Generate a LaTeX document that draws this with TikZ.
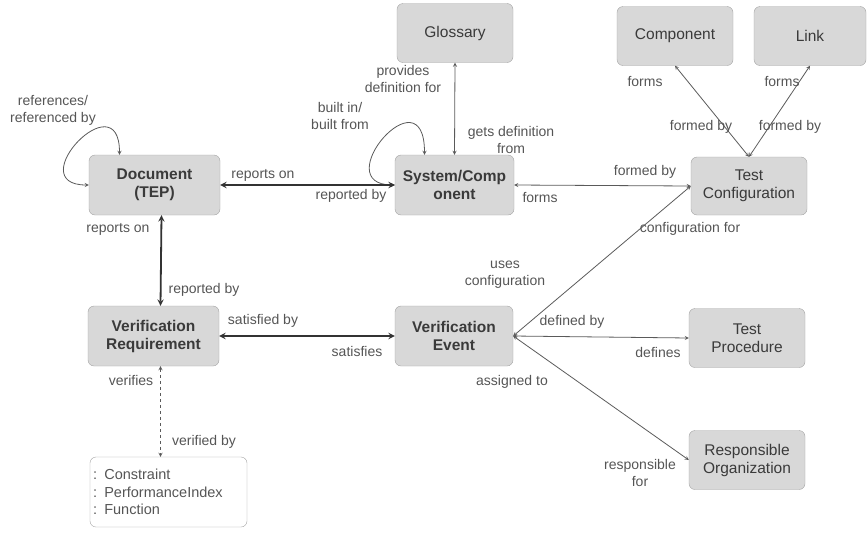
\documentclass[tikz,border=0pt]{standalone}
\usepackage{fontspec}
\setmainfont{Liberation Sans}
\definecolor{boxfill}{HTML}{D8D8D8}
\definecolor{boxline}{HTML}{A3A3A3}
\definecolor{inktext}{HTML}{3A3A3A}
\definecolor{lbltext}{HTML}{555555}
\definecolor{thickline}{HTML}{333333}
\definecolor{thinline}{HTML}{5A5A5A}
\begin{document}
\begin{tikzpicture}[x=1pt,y=1pt]
\tikzstyle{every node}+=[inner sep=0pt]
\tikzstyle{entity}=[draw=boxline,fill=boxfill,rounded corners=6pt,minimum width=116pt,minimum height=59pt,align=center,text=inktext,font=\fontsize{15.5}{18}\selectfont]
\tikzstyle{core}=[entity,minimum height=60pt,font=\fontsize{15.5}{18}\selectfont\bfseries]
\tikzstyle{lbl}=[text=lbltext,align=center,font=\fontsize{14}{17}\selectfont]
\tikzstyle{strong}=[<->,>=stealth,line width=1.8pt,draw=thickline]
\tikzstyle{weak}=[<->,>=stealth,line width=0.8pt,draw=thinline]
\useasboundingbox (0,0) rectangle (867,-536);
\node [core,minimum width=131pt] (doc) at (154.5,-185) {Document\\(TEP)};
\node [core,minimum width=119pt] (sys) at (454.5,-185) {System/Comp\\onent};
\node [core,minimum width=131pt] (vreq) at (153.5,-336) {Verification\\Requirement};
\node [core,minimum width=118pt] (ve) at (454,-336) {Verification\\Event};
\node [entity] (glos) at (455,-33) {Glossary};
\node [entity] (comp) at (675,-36) {Component};
\node [entity,minimum width=112pt] (link) at (810,-36) {Link};
\node [entity,minimum height=58pt] (tc) at (749,-186) {Test\\Configuration};
\node [entity] (tp) at (747,-338) {Test\\Procedure};
\node [entity] (ro) at (747,-460) {Responsible\\Organization};
\node [draw=boxline,rounded corners=6pt,minimum width=157pt,minimum height=70pt,text width=151pt,align=left,text=lbltext,font=\fontsize{14.5}{17.5}\selectfont] (cls) at (168.5,-492) {: Constraint\\: PerformanceIndex\\: Function};
\draw [weak] (doc.west) .. controls +(-69,0) and +(0,75) .. ([xshift=-35pt]doc.north);
\node [lbl] (docloop) at (53,-110) {references/\\referenced by};
\draw [weak] (sys.west) .. controls +(-69,0) and +(0,85) .. ([xshift=-30pt]sys.north);
\node [lbl] (sysloop) at (340,-116) {built in/\\built from};
\draw [strong] (doc.east) -- (sys.west);
\node [lbl] (docsys) at (263,-175) {reports on};
\node [lbl] (sysdoc) at (351,-196) {reported by};
\draw [strong] ([xshift=7pt]doc.south) -- ([xshift=7pt]vreq.north);
\node [lbl] (docvreq) at (118,-229) {reports on};
\node [lbl] (vreqdoc) at (204,-290) {reported by};
\draw [strong] (vreq.east) -- (ve.west);
\node [lbl] (vreqve) at (263,-321) {satisfied by};
\draw (357,-351) node [lbl] (vevreq) {satisfies};
\draw [weak,dashed] ([xshift=7pt]vreq.south) -- ([xshift=7pt]vreq.south |- cls.north);
\node [lbl] (vreqcls) at (131,-380) {verifies};
\node [lbl] (clsvreq) at (204,-442) {verified by};
\draw [weak] (glos.south) -- (sys.north);
\node [lbl] (glossys) at (403,-79) {provides\\definition for};
\node [lbl] (sysglos) at (511,-140) {gets definition\\from};
\draw [weak] (sys.east) -- (tc.west);
\node [lbl] (systc) at (540,-197) {forms};
\node [lbl] (tcsys) at (645,-172) {formed by};
\draw [weak] (comp.south) -- (tc.north);
\node [lbl] (comptc) at (645,-81) {forms};
\node [lbl] (tccomp) at (701,-127) {formed by};
\draw [weak] (link.south) -- (tc.north);
\node [lbl] (linktc) at (782,-81) {forms};
\node [lbl] (tclink) at (790,-127) {formed by};
\draw [weak] (ve.east) -- (tc.west);
\node [lbl] (vetc) at (505,-275) {uses\\configuration};
\node [lbl] (tcve) at (690,-229) {configuration for};
\draw [weak] (ve.east) -- (tp.west);
\node [lbl] (vetp) at (572,-322) {defined by};
\node [lbl] (tpve) at (658,-352) {defines};
\draw [weak] (ve.east) -- (ro.west);
\node [lbl] (vero) at (512,-382) {assigned to};
\node [lbl] (rove) at (640,-473) {responsible\\for};
\end{tikzpicture}
\end{document}
